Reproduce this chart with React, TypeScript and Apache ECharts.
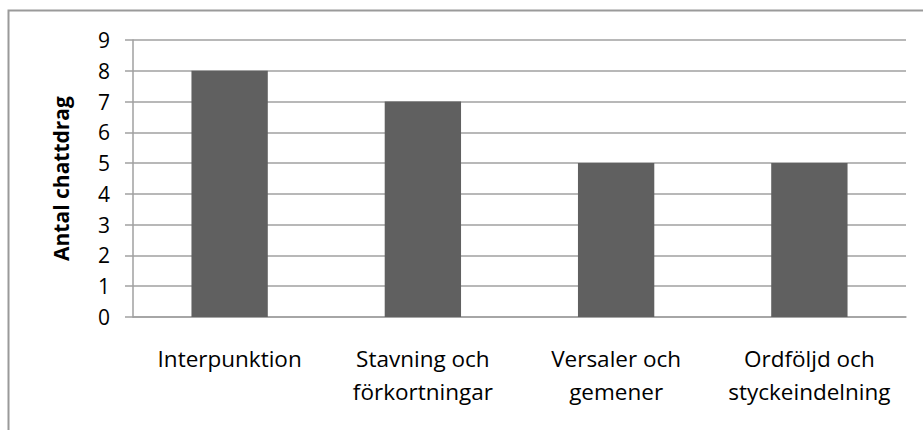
import React, { useEffect, useRef } from "react";
import * as echarts from "echarts";

const categories = [
  "Interpunktion",
  "Stavning och\nförkortningar",
  "Versaler och\ngemener",
  "Ordföljd och\nstyckeindelning",
];
const values = [8, 7, 5, 5];
const yTitle = "Antal chattdrag";

export default function App() {
  const ref = useRef<HTMLDivElement>(null);
  useEffect(() => {
    const chart = echarts.init(ref.current!, null, { renderer: "svg" });
    const font = "'Open Sans', 'Liberation Sans', sans-serif";
    chart.setOption({
      animation: false,
      backgroundColor: "#ffffff",
      graphic: [
        {
          type: "rect",
          shape: { x: 8.5, y: 10.5, width: 1000, height: 1000 },
          style: { fill: "none", stroke: "#9a9a9a", lineWidth: 2 },
          silent: true,
        },
      ],
      grid: { left: 133, top: 40, right: 17, bottom: 113 },
      xAxis: {
        type: "category",
        data: categories,
        axisLine: { show: true, lineStyle: { color: "#a0a0a0", width: 1.5 } },
        axisTick: { show: false },
        axisLabel: {
          color: "#000000",
          fontFamily: font,
          fontSize: 22.5,
          lineHeight: 33,
          margin: 25,
          interval: 0,
        },
      },
      yAxis: {
        type: "value",
        min: 0,
        max: 9,
        interval: 1,
        name: yTitle,
        nameLocation: "middle",
        nameGap: 62,
        nameTextStyle: {
          color: "#000000",
          fontFamily: font,
          fontSize: 21,
          fontWeight: "bold",
        },
        axisLine: { show: true, lineStyle: { color: "#a0a0a0", width: 1.5 } },
        axisTick: { show: true, length: 8, lineStyle: { color: "#a0a0a0", width: 1.5 } },
        splitLine: { show: true, lineStyle: { color: "#a0a0a0", width: 1.5 } },
        axisLabel: {
          color: "#000000",
          fontFamily: font,
          fontSize: 21,
          margin: 23,
        },
      },
      series: [
        {
          type: "bar",
          data: values,
          barWidth: "39.5%",
          itemStyle: { color: "#606060" },
        },
      ],
    });
    return () => chart.dispose();
  }, []);
  return (
    <div
      ref={ref}
      style={{ position: "fixed", left: 0, top: 0, width: 923, height: 430 }}
    />
  );
}
